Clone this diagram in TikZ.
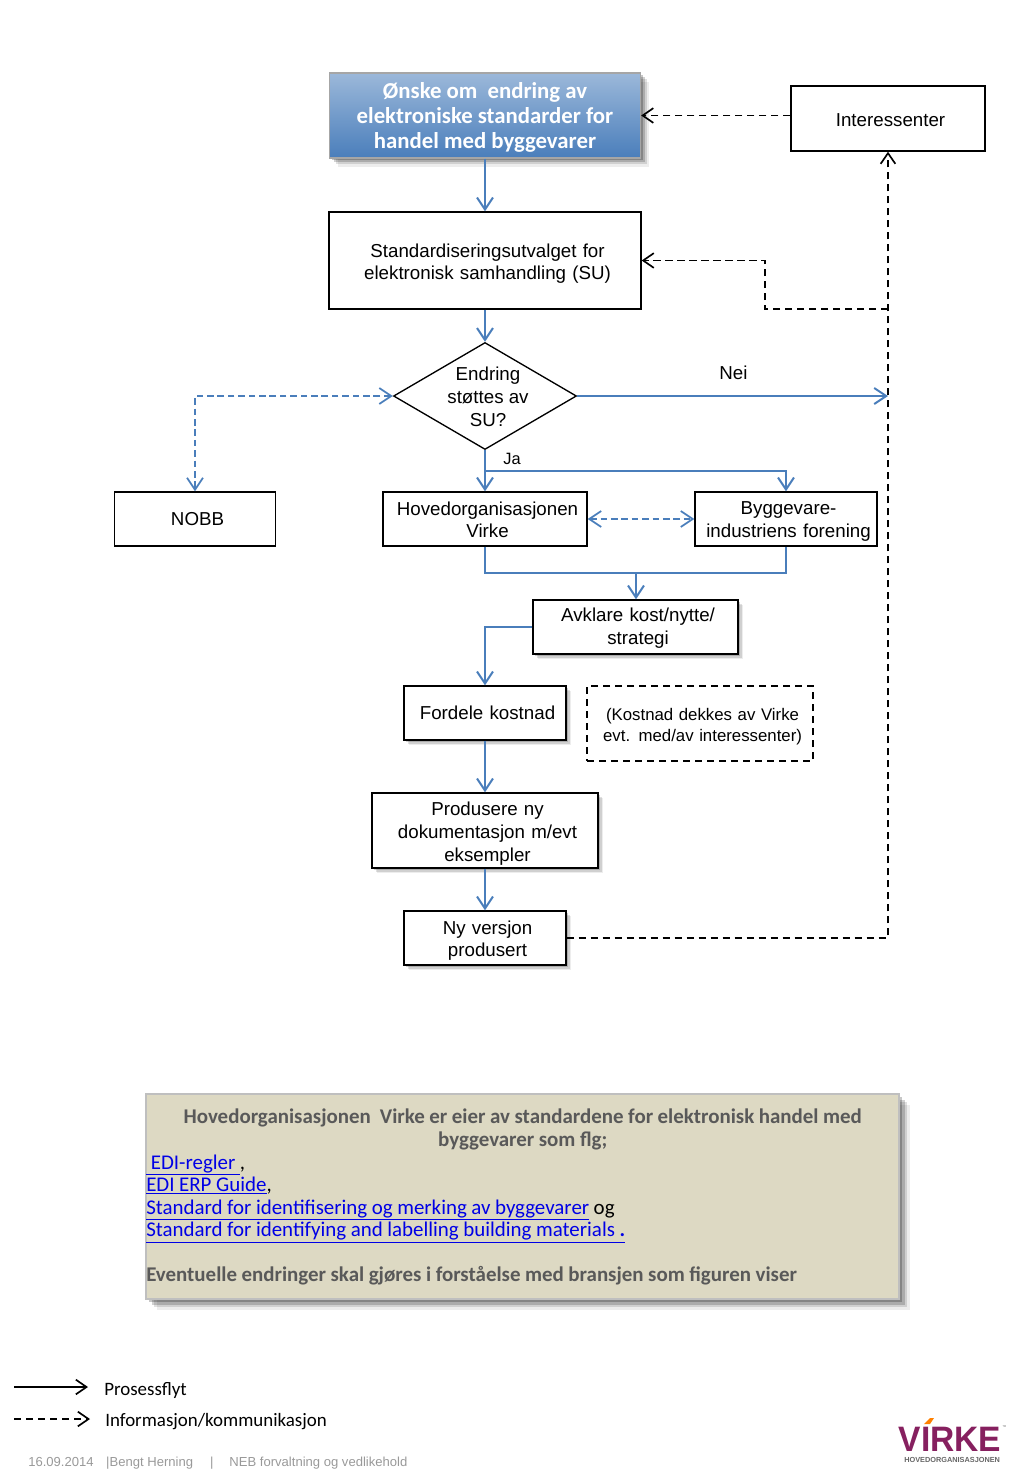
\documentclass[tikz,border=0pt]{standalone}
\usepackage{fontspec}
\setmainfont{Liberation Sans}
\newfontfamily\carlito{Carlito}
\usetikzlibrary{arrows.meta,shapes.geometric,shadows}

\definecolor{flowblue}{HTML}{4A7EBB}
\definecolor{notebg}{HTML}{DDD9C3}
\definecolor{notetext}{HTML}{595959}
\definecolor{linkblue}{HTML}{0000E6}
\definecolor{virkepurple}{HTML}{86205F}

\newcommand{\dropby}{4pt}

\tikzset{
  softshadow/.style={
    drop shadow={shadow xshift=#1*.6pt,shadow yshift=-#1*.6pt,opacity=.22,fill=black},
    drop shadow={shadow xshift=#1*1.2pt,shadow yshift=-#1*1.2pt,opacity=.18,fill=black},
    drop shadow={shadow xshift=#1*1.8pt,shadow yshift=-#1*1.8pt,opacity=.12,fill=black},
    drop shadow={shadow xshift=#1*2.4pt,shadow yshift=-#1*2.4pt,opacity=.07,fill=black}},
  textdrop/.code={\renewcommand{\dropby}{#1}},
  sized/.style 2 args={minimum width=#1*.75pt,minimum height=#2*.75pt,inner sep=0pt,
    text width=#1*.75pt},
  plainbox/.style={draw=black,line width=1pt,fill=white,
    font=\fontsize{14.05}{17.1}\selectfont,
    execute at begin node={\centering\advance\leftskip 3.8pt\rule{0pt}{\dimexpr10pt+\dropby\relax}}},
  shadebox/.style={plainbox,softshadow=1.5},
  decision/.style={draw=black,line width=1pt,diamond,fill=white,inner sep=0pt,
    aspect=1.71,minimum width=183*.75pt,minimum height=107*.75pt},
  boxlabel/.style={align=center,font=\fontsize{14.05}{17.1}\selectfont},
  flow/.style={draw=flowblue,line width=1.5pt,->,
    >={Straight Barb[length=9pt,width=12pt]}},
  flowdash/.style={flow,line width=1.3pt,dash pattern=on 5pt off 2.8pt,<->},
  infoflow/.style={draw=black,line width=1.25pt,dash pattern=on 5.5pt off 3.5pt,->,
    >={Straight Barb[length=8pt,width=11pt]}},
  legendtext/.style={anchor=west,inner sep=0pt,font=\carlito\fontsize{14.2}{16}\selectfont},
}
\newcommand{\linkword}[1]{\textcolor{linkblue}{\underline{#1}}}

\begin{document}
\begin{tikzpicture}[x=.75pt,y=-.75pt]

  \useasboundingbox (0,0) rectangle (1024,1479);

  % Top of the flow
  \node[sized={311}{85},softshadow=2.7,draw=black!35,line width=1pt,top color=flowblue!55,
    bottom color=flowblue,text=white,
    font=\carlito\bfseries\fontsize{17.1}{18.7}\selectfont,
    execute at begin node={\spaceskip=3.8pt\relax\centering\rule{0pt}{15pt}}] (onske) at (485,115.5)
    {Ønske om \ endring av\\elektroniske standarder for\\handel med byggevarer};
  \node[plainbox,sized={194}{65},textdrop=1.5pt] (inter) at (888,118.5) {Interessenter};
  \node[plainbox,sized={312}{97},textdrop=5pt] (su) at (485,260.5)
    {Standardiseringsutvalget for\\elektronisk samhandling (SU)};

  % Decision
  \node[decision] (endring) at (485,396) {};
  \node[boxlabel] (endringtext) at (488,396.5) {Endring\\støttes av\\SU?};
  \node[boxlabel] (nei) at (733.5,373) {Nei};
  \node[boxlabel,font=\fontsize{12.3}{15}\selectfont] (ja) at (512,459) {Ja};

  % Second row
  \node[plainbox,sized={161}{54},textdrop=0pt] (nobb) at (195,519) {NOBB};
  \node[plainbox,sized={204}{54},textdrop=1.5pt] (virke) at (485,519) {Hovedorganisasjonen\\Virke};
  \node[plainbox,sized={182}{54},textdrop=3.5pt] (bygg) at (786,519) {Byggevare-\\industriens forening};

  % Lower part of the flow
  \node[shadebox,sized={205}{54},textdrop=2pt] (avklare) at (635.5,627) {Avklare kost/nytte/\\strategi};
  \node[shadebox,sized={162}{54},textdrop=0pt] (fordele) at (485,713) {Fordele kostnad};
  \node[plainbox,dash pattern=on 5.5pt off 3.5pt,sized={226}{75},textdrop=4pt,
    font=\fontsize{12.6}{15.9}\selectfont] (dekkes) at (700,723.5)
    {(Kostnad dekkes av Virke\\evt. med/av interessenter)};
  \node[shadebox,sized={226}{75},textdrop=4.5pt] (produsere) at (485,830.5)
    {Produsere ny\\dokumentasjon m/evt\\eksempler};
  \node[shadebox,sized={162}{54},textdrop=4pt] (nyversjon) at (485,938) {Ny versjon\\produsert};

  % Free ends and bends
  \coordinate (neiend) at (888,396);
  \coordinate (infojoin) at (888,309);
  \coordinate (infobend) at (765,309);
  \coordinate (jabranch) at (485,471);
  \coordinate (mergeleft) at (485,573);
  \coordinate (mergeright) at (786,573);
  \coordinate (mergemid) at (636,573);

  % Process connectors
  \draw[flow] (onske.south) -- (su.north);
  \draw[flow] (su.south) -- (endring.north);
  \draw[flow] (endring.east) -- (neiend);
  \draw[flow] (endring.south) -- (virke.north);
  \draw[flow] (jabranch) -| (bygg.north);
  \draw[flow,-] (virke.south) -- (mergeleft) -- (mergeright) -- (bygg.south);
  \draw[flow] (mergemid) -- (mergemid |- avklare.north);
  \draw[flow] (avklare.west) -| (fordele.north);
  \draw[flow] (fordele.south) -- (produsere.north);
  \draw[flow] (produsere.south) -- (nyversjon.north);
  \draw[flowdash] (endring.west) -| (nobb.north);
  \draw[flowdash] (virke.east) -- (bygg.west);

  % Information connectors
  \draw[infoflow] (inter.west |- onske.east) -- (onske.east);
  \draw[infoflow] (nyversjon.east) -| (inter.south);
  \draw[infoflow] (infojoin) -- (infobend) |- (su.east);

  % Note box
  \node[sized={753}{205},softshadow=3.5,draw=black!25,line width=1pt,fill=notebg] (note) at (522.5,1196.5) {};
  \node[anchor=north west,inner sep=0pt,text width=753*.75pt,
    font=\carlito\fontsize{15.7}{16.9}\selectfont,
    execute at begin node={\spaceskip=3.4pt\relax}] (notetext) at (146,1109)
    {{\centering\bfseries\color{notetext}Hovedorganisasjonen \ Virke er eier av standardene for elektronisk handel med\\byggevarer som flg;\par}
    \raggedright
    \linkword{\ EDI-regler\ },\\
    \linkword{EDI ERP Guide},\\
    \linkword{Standard for identifisering og merking av byggevarer} og\\
    \linkword{Standard for identifying and labelling building materials \textbf{.}}\\[16.9pt]
    {\bfseries\color{notetext}Eventuelle endringer skal gjøres i forståelse med bransjen som figuren viser}};

  % Legend
  \coordinate (solidstart) at (14,1387);
  \coordinate (solidend) at (88,1387);
  \coordinate (dashstart) at (14,1419);
  \coordinate (dashend) at (90,1419);
  \draw[black,line width=1.25pt,->,>={Straight Barb[length=8pt,width=11pt]}] (solidstart) -- (solidend);
  \draw[infoflow] (dashstart) -- (dashend);
  \node[legendtext] (prosess) at (104,1390) {Prosessflyt};
  \node[legendtext] (info) at (105,1422) {Informasjon/kommunikasjon};

  % Footer
  \node[anchor=west,inner sep=0pt,text=black!40,font=\fontsize{9.8}{12}\selectfont] (footer) at (28,1463)
    {16.09.2014\hspace{9.4pt}|Bengt Herning\hspace{12.7pt}|\hspace{12pt}NEB forvaltning og vedlikehold};

  % Logo
  \node[anchor=west,inner sep=0pt,text=virkepurple,font=\bfseries\fontsize{26.5}{28}\selectfont] (logo) at (898.5,1439) {\scalebox{.95}[1]{VIRKE}};
  \node[anchor=west,inner sep=0pt,text=black!60,font=\bfseries\fontsize{5.5}{6}\selectfont] (logosub) at (904,1459.5) {HOVEDORGANISASJONEN};
  \node[anchor=west,inner sep=0pt,text=black!60,font=\fontsize{3}{3}\selectfont] (logotm) at (1002,1427) {™};
  \fill[orange] (924,1424) -- (930,1418) -- (934,1418) -- (930,1424) -- cycle;

\end{tikzpicture}
\end{document}
